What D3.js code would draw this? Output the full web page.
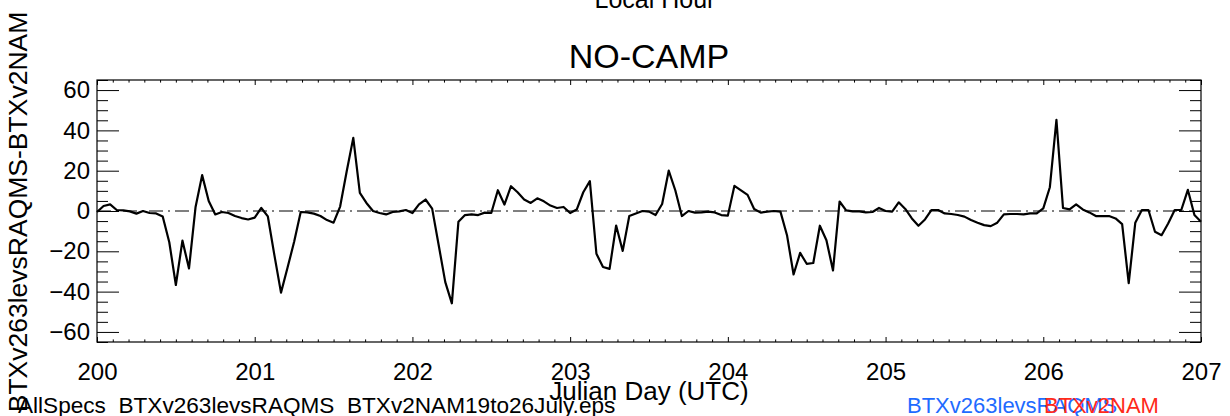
<!DOCTYPE html>
<html>
<head>
<meta charset="utf-8">
<script src="https://cdn.jsdelivr.net/npm/d3@7"></script>
<style>
  body { margin: 0; background: #fff; }
  svg { display: block; }
  text { font-family: "Liberation Sans", Arial, Helvetica, sans-serif; fill: #000; }
</style>
</head>
<body>
<svg id="chart" width="1230" height="416"></svg>
<script>
// ── Data ────────────────────────────────────────────────────────────────────
// hourly BTXv263levsRAQMS - BTXv2NAM differences, starting at day 200 00 UTC
const startDay = 200;
const diffs = [
  -0.5, 2.5, 3.3, 0.5, 0.3, -0.2, -1.3, 0, -1, -1.2, -2.7, -15.5,
  -36.7, -14.7, -28.5, 2, 17.8, 5, -1.7, -0.5, -1, -2.5, -3.5, -4.2,
  -3.3, 1.5, -2.7, -22, -40.5, -28, -15.3, -0.5, -0.7, -1.3, -2.5, -4.5,
  -5.8, 2.2, 19.7, 36.3, 9, 4, 0, -1, -1.7, -0.5, -0.2, 0.5,
  -1, 3.3, 5.7, 1.2, -17, -35.3, -45.8, -5.3, -2, -1.7, -2, -0.8,
  -1, 10.3, 3.2, 12.3, 9.3, 5.7, 4, 6.3, 4.8, 2.7, 1.5, 2,
  -1, 0.7, 9.3, 14.8, -21.2, -27.8, -28.7, -7.2, -19.8, -2.5, -1.2, 0,
  -0.3, -2, 3.5, 20, 10.3, -2.5, 0, -0.8, -0.7, -0.3, -0.7, -2,
  -2.3, 12.5, 10.2, 8, 1, -0.8, -0.3, 0, -0.3, -12, -31.5, -20.8,
  -26.2, -25.8, -7.3, -14.5, -29.5, 4.7, 0.3, -0.2, -0.2, -0.7, -0.5, 1.5,
  0, -0.3, 4.3, 1, -3.7, -7.3, -4.2, 0.5, 0.5, -1.2, -1.5, -2,
  -2.8, -4.5, -5.8, -7, -7.5, -5.8, -1.7, -1.5, -1.5, -1.7, -1.2, -1.2,
  1.3, 11.8, 45.2, 1.5, 0.8, 3.3, 0.8, -0.7, -2.5, -2.5, -2.5, -3.7,
  -6.5, -35.8, -5.8, 0.5, 0.5, -10.3, -12, -6.2, 0.5, 0.5, 10.5, -2,
  -5.3
];

const xMajorTicks = [200, 201, 202, 203, 204, 205, 206, 207];
const yMajorTicks = [-60, -40, -20, 0, 20, 40, 60];
const xDomain = [200, 207];
const yDomain = [-65, 65];

// ── Layout ──────────────────────────────────────────────────────────────────
const PLOT_L = 97, PLOT_R = 1201, PLOT_T = 80, PLOT_B = 342;
const FONT = "24px";

const svg = d3.select("#chart");

const x = d3.scaleLinear().domain(xDomain).range([PLOT_L, PLOT_R]);
const y = d3.scaleLinear().domain(yDomain).range([PLOT_B, PLOT_T]);

const xMinor = d3.range(200, 207.001, 0.1).filter(d => Math.abs(d - Math.round(d)) > 1e-6);
const yMinor = d3.range(-65, 65.001, 5).filter(d => d % 20 !== 0);

// ── Axes ────────────────────────────────────────────────────────────────────
function styleAxis(g) {
  g.select(".domain").remove();
  g.selectAll(".tick line").attr("stroke", "#000").attr("stroke-width", 1);
  g.selectAll(".tick text").attr("font-size", FONT).attr("fill", "#000")
    .attr("font-family", "\"Liberation Sans\", Arial, sans-serif");
}

// bottom
svg.append("g").attr("transform", `translate(0,${PLOT_B})`)
  .call(d3.axisBottom(x).tickValues(xMajorTicks).tickFormat(d3.format("d"))
    .tickSize(-5).tickPadding(21))
  .call(styleAxis);
svg.append("g").attr("transform", `translate(0,${PLOT_B})`)
  .call(d3.axisBottom(x).tickValues(xMinor).tickFormat("").tickSize(-2.6))
  .call(styleAxis);

// top
svg.append("g").attr("transform", `translate(0,${PLOT_T})`)
  .call(d3.axisTop(x).tickValues(xMajorTicks).tickFormat("").tickSize(-5))
  .call(styleAxis);
svg.append("g").attr("transform", `translate(0,${PLOT_T})`)
  .call(d3.axisTop(x).tickValues(xMinor).tickFormat("").tickSize(-2.6))
  .call(styleAxis);

// left
svg.append("g").attr("transform", `translate(${PLOT_L},0)`)
  .call(d3.axisLeft(y).tickValues(yMajorTicks).tickSize(-22).tickPadding(7))
  .call(styleAxis);
svg.append("g").attr("transform", `translate(${PLOT_L},0)`)
  .call(d3.axisLeft(y).tickValues(yMinor).tickFormat("").tickSize(-11))
  .call(styleAxis);

// right
svg.append("g").attr("transform", `translate(${PLOT_R},0)`)
  .call(d3.axisRight(y).tickValues(yMajorTicks).tickFormat("").tickSize(-22))
  .call(styleAxis);
svg.append("g").attr("transform", `translate(${PLOT_R},0)`)
  .call(d3.axisRight(y).tickValues(yMinor).tickFormat("").tickSize(-11))
  .call(styleAxis);

// frame
svg.append("rect")
  .attr("x", PLOT_L).attr("y", PLOT_T)
  .attr("width", PLOT_R - PLOT_L).attr("height", PLOT_B - PLOT_T)
  .attr("fill", "none").attr("stroke", "#000").attr("stroke-width", 1.2);

// zero reference line (dash-dot)
svg.append("line")
  .attr("x1", x(xDomain[0])).attr("x2", x(xDomain[1]))
  .attr("y1", y(0)).attr("y2", y(0))
  .attr("stroke", "#000").attr("stroke-width", 1)
  .attr("stroke-dasharray", "14,5,2,5");

// ── Series ──────────────────────────────────────────────────────────────────
const line = d3.line()
  .x((d, i) => x(startDay + i / 24))
  .y(d => y(d));

svg.append("path")
  .datum(diffs)
  .attr("d", line)
  .attr("fill", "none")
  .attr("stroke", "#000")
  .attr("stroke-width", 2.2)
  .attr("stroke-linejoin", "round");

// ── Titles ──────────────────────────────────────────────────────────────────
svg.append("text")
  .attr("x", 655).attr("y", 8)
  .attr("text-anchor", "middle").attr("font-size", "25px")
  .text("Local Hour");

svg.append("text")
  .attr("x", 649).attr("y", 68)
  .attr("text-anchor", "middle").attr("font-size", "34px")
  .text("NO-CAMP");

svg.append("text")
  .attr("x", 649).attr("y", 400)
  .attr("text-anchor", "middle").attr("font-size", "26px")
  .text("Julian Day (UTC)");

svg.append("text")
  .attr("transform", "translate(27,212) rotate(-90)")
  .attr("text-anchor", "middle").attr("font-size", "26.5px")
  .text("BTXv263levsRAQMS-BTXv2NAM");

// ── Footer ──────────────────────────────────────────────────────────────────
svg.append("text")
  .attr("x", 18).attr("y", 413)
  .attr("font-size", "22.6px")
  .text("AllSpecs_BTXv263levsRAQMS_BTXv2NAM19to26July.eps");

svg.append("text")
  .attr("x", 907).attr("y", 413)
  .attr("font-size", "22px")
  .style("fill", "#1e6bff")
  .text("BTXv263levsRAQMS");

svg.append("text")
  .attr("x", 1044).attr("y", 413)
  .attr("font-size", "22px")
  .style("fill", "#ff2a1a")
  .text("BTXv2NAM");
</script>
</body>
</html>
